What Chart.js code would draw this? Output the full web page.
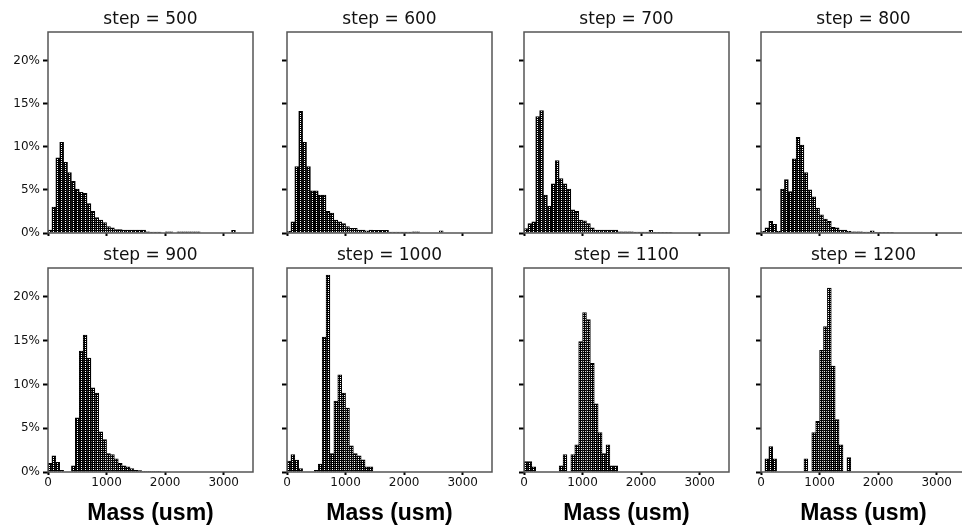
<!DOCTYPE html>
<html>
<head>
<meta charset="utf-8">
<script src="https://cdn.jsdelivr.net/npm/chart.js@4.4.1/dist/chart.umd.min.js"></script>
<style>
  html, body { margin: 0; padding: 0; background: #fff; overflow: hidden; }
  #wrap { position: relative; width: 962px; height: 528px; overflow: hidden; }
  #wrap canvas { position: absolute; }
</style>
</head>
<body>
<div id="wrap"></div>
<script>
// bin centres (usm), bins are 1000/15 wide
const massBin = [33.3, 100, 166.7, 233.3, 300, 366.7, 433.3, 500, 566.7, 633.3,
  700, 766.7, 833.3, 900, 966.7, 1033.3, 1100, 1166.7, 1233.3, 1300,
  1366.7, 1433.3, 1500, 1566.7, 1633.3, 1700, 1766.7, 1833.3, 1900, 1966.7,
  2033.3, 2100, 2166.7, 2233.3, 2300, 2366.7, 2433.3, 2500, 2566.7, 2633.3,
  2700, 2766.7, 2833.3, 2900, 2966.7, 3033.3, 3100, 3166.7, 3233.3, 3300,
  3366.7, 3433.3];

// percent of particles per bin
const step500 = [0.35, 3.0, 8.7, 10.5, 8.2, 7.0, 6.0, 5.1, 4.7, 4.6,
  3.4, 2.5, 1.8, 1.5, 1.2, 0.75, 0.6, 0.4, 0.4, 0.35,
  0.35, 0.35, 0.35, 0.35, 0.35, 0.15, 0.1, 0.1, 0.1, 0,
  0.15, 0.15, 0, 0.15, 0.15, 0.15, 0.15, 0.15, 0.15, 0,
  0, 0, 0, 0, 0, 0, 0, 0.3, 0, 0,
  0, 0];
const step600 = [0.2, 1.3, 7.7, 14.1, 10.5, 7.7, 4.9, 4.9, 4.4, 4.4,
  2.5, 2.3, 1.5, 1.3, 1.1, 0.75, 0.55, 0.55, 0.35, 0.35,
  0.25, 0.35, 0.3, 0.3, 0.3, 0.3, 0.1, 0.1, 0.1, 0.1,
  0.1, 0.1, 0.15, 0.15, 0, 0, 0, 0, 0, 0.25,
  0, 0, 0, 0, 0, 0, 0, 0, 0, 0,
  0, 0];
const step700 = [0.5, 1.1, 1.3, 13.5, 14.2, 4.4, 3.1, 5.7, 8.4, 6.3,
  5.7, 5.1, 2.7, 2.5, 1.5, 1.4, 1.1, 0.6, 0.35, 0.35,
  0.35, 0.35, 0.35, 0.35, 0.15, 0.15, 0.15, 0.15, 0.1, 0.1,
  0.1, 0.1, 0.3, 0.05, 0.05, 0.05, 0.05, 0.05, 0, 0,
  0, 0, 0, 0, 0, 0, 0, 0, 0, 0,
  0, 0];
const step800 = [0.2, 0.6, 1.35, 1.0, 0.2, 5.1, 6.2, 4.8, 8.6, 11.1,
  10.2, 7.0, 5.0, 4.2, 2.9, 2.1, 1.6, 1.35, 0.65, 0.6,
  0.35, 0.35, 0.2, 0.15, 0.15, 0.15, 0.1, 0.1, 0.25, 0.05,
  0.05, 0.05, 0.05, 0.05, 0, 0, 0, 0, 0, 0,
  0, 0, 0, 0, 0, 0, 0, 0, 0, 0,
  0, 0];
const step900 = [1.0, 1.85, 1.1, 0.2, 0, 0, 0.7, 6.2, 13.8, 15.65,
  13.0, 9.6, 9.0, 4.6, 3.7, 2.1, 2.0, 1.5, 1.0, 0.7,
  0.6, 0.4, 0.2, 0.15, 0.05, 0.05, 0.05, 0.05, 0.05, 0,
  0, 0, 0, 0, 0, 0, 0, 0, 0, 0,
  0, 0, 0, 0, 0, 0, 0, 0, 0, 0,
  0, 0];
const step1000 = [1.25, 2.0, 1.35, 0.4, 0, 0, 0, 0.2, 0.9, 15.4,
  22.5, 2.1, 8.1, 11.1, 9.0, 7.3, 3.0, 2.1, 1.85, 1.4,
  0.6, 0.6, 0, 0, 0, 0, 0, 0, 0, 0,
  0, 0, 0, 0, 0, 0, 0, 0, 0, 0,
  0, 0, 0, 0, 0, 0, 0, 0, 0, 0,
  0, 0];
const step1100 = [1.2, 1.2, 0.6, 0, 0, 0, 0, 0, 0, 0.7,
  2.0, 0, 2.0, 3.1, 14.9, 18.2, 17.4, 12.4, 7.8, 4.5,
  2.1, 3.1, 0.7, 0.7, 0, 0, 0, 0, 0, 0,
  0, 0, 0, 0, 0, 0, 0, 0, 0, 0,
  0, 0, 0, 0, 0, 0, 0, 0, 0, 0,
  0, 0];
const step1200 = [0, 1.5, 2.9, 1.5, 0, 0, 0, 0, 0, 0,
  0, 1.5, 0, 4.5, 5.8, 13.9, 16.6, 21.0, 12.1, 6.0,
  3.1, 0, 1.65, 0, 0, 0, 0, 0, 0, 0,
  0, 0, 0, 0, 0, 0, 0, 0, 0, 0,
  0, 0, 0, 0, 0, 0, 0, 0, 0, 0,
  0, 0];

const panelTitles = ['step = 500', 'step = 600', 'step = 700', 'step = 800',
                     'step = 900', 'step = 1000', 'step = 1100', 'step = 1200'];
const panelData = [step500, step600, step700, step800, step900, step1000, step1100, step1200];
const yTicks = [0, 5, 10, 15, 20];
const xTicks = [0, 1000, 2000, 3000];
const Y_MAX = 23.3;
const X_MAX = 3500;

// layout (px)
const colLeft = [48, 287, 524, 761];
const rowTop = [32, 268];
const rowH = [201, 204];
const PLOT_W = 205;
const TITLE_H = 32;
const bottomH = [14, 60];

Chart.defaults.font.family = 'DejaVu Sans';
Chart.defaults.color = '#111';

const framePlugin = {
  id: 'frame',
  afterDatasetsDraw(chart) {
    const { ctx, chartArea: a } = chart;
    ctx.save();
    ctx.strokeStyle = '#555';
    ctx.lineWidth = 1.5;
    ctx.strokeRect(a.left, a.top, a.right - a.left, a.bottom - a.top);
    ctx.restore();
  }
};

function hatch(ctx) {
  const tile = document.createElement('canvas');
  tile.width = 2; tile.height = 2;
  const g = tile.getContext('2d');
  g.fillStyle = '#000'; g.fillRect(0, 0, 2, 2);
  g.fillStyle = '#fff'; g.fillRect(1, 1, 1, 1);
  return ctx.createPattern(tile, 'repeat');
}

const wrap = document.getElementById('wrap');

panelData.forEach((vals, i) => {
  const r = Math.floor(i / 4), c = i % 4;
  const axisW = c === 0 ? 46 : 12;
  const cv = document.createElement('canvas');
  cv.width = axisW + PLOT_W + 3;
  cv.height = TITLE_H + rowH[r] + bottomH[r];
  cv.style.left = (colLeft[c] - axisW) + 'px';
  cv.style.top = (rowTop[r] - TITLE_H) + 'px';
  wrap.appendChild(cv);
  const ctx = cv.getContext('2d');

  new Chart(ctx, {
    type: 'bar',
    data: {
      datasets: [{
        data: massBin.map((m, k) => ({ x: m, y: vals[k] })),
        backgroundColor: hatch(ctx),
        borderColor: '#000',
        borderWidth: 1,
        barPercentage: 1,
        categoryPercentage: 1
      }]
    },
    options: {
      responsive: false,
      animation: false,
      layout: { padding: { left: 0, right: 3, top: 0, bottom: 0 } },
      plugins: {
        legend: { display: false },
        tooltip: { enabled: false },
        title: {
          display: true,
          text: panelTitles[i],
          fullSize: false,
          color: '#111',
          font: { size: 17, weight: 'normal', lineHeight: 1.2 },
          padding: { top: 8.9, bottom: 2.7 }
        }
      },
      scales: {
        x: {
          type: 'linear',
          min: 0,
          max: X_MAX,
          offset: false,
          afterBuildTicks: s => { s.ticks = xTicks.map(v => ({ value: v })); },
          afterFit: s => { s.height = bottomH[r]; },
          ticks: {
            autoSkip: false,
            maxRotation: 0,
            padding: 1,
            color: '#111',
            font: { size: 12 },
            callback: v => (r === 1 ? String(v) : '')
          },
          grid: {
            offset: false,
            drawOnChartArea: false,
            drawTicks: true,
            tickLength: 3,
            tickWidth: 2,
            tickColor: '#000'
          },
          border: { display: false },
          title: {
            display: r === 1,
            text: 'Mass (usm)',
            color: '#000',
            font: { family: 'Liberation Sans', size: 23, weight: 'bold', lineHeight: 1.2 },
            padding: { top: 0, bottom: 5 }
          }
        },
        y: {
          type: 'linear',
          min: 0,
          max: Y_MAX,
          afterBuildTicks: s => { s.ticks = yTicks.map(v => ({ value: v })); },
          afterFit: s => { s.width = axisW; },
          ticks: {
            autoSkip: false,
            padding: 3,
            color: '#111',
            font: { size: 12 },
            callback: v => (c === 0 ? v + '%' : '')
          },
          grid: {
            drawOnChartArea: false,
            drawTicks: true,
            tickLength: 5,
            tickWidth: 2,
            tickColor: '#000'
          },
          border: { display: false }
        }
      }
    },
    plugins: [framePlugin]
  });
});
</script>
</body>
</html>
